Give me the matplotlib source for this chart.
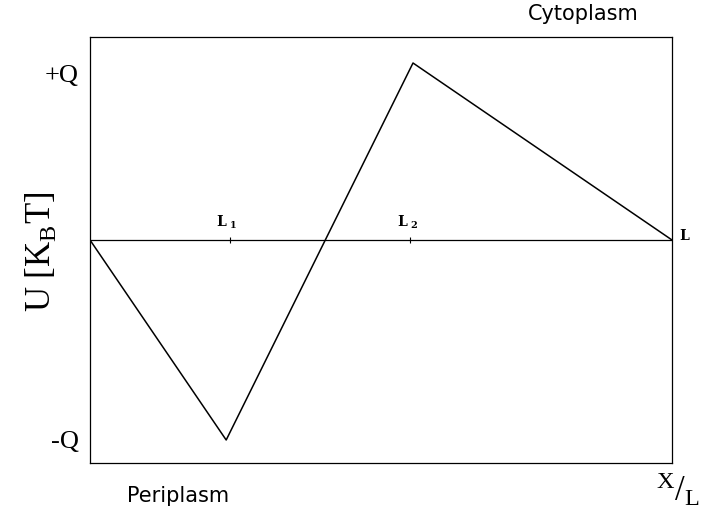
import numpy as np
import matplotlib
matplotlib.use('Agg')
import matplotlib.pyplot as plt

# potential profile across the membrane (position in units of L, energy in units of Q)
x_pos = [0.0, 0.234, 0.555, 1.0]
u_val = [0.0, -1.0, 0.885, 0.0]
q_ticks = [-1.0, 0.835]
q_labels = ['-Q', '+Q']
l_marks = [0.24, 0.55]
l_names = ['$\\mathregular{L_{\\ 1}}$', '$\\mathregular{L_{\\ 2}}$']

fig = plt.figure(figsize=(7.01, 5.27), dpi=100)
ax = fig.add_axes([90 / 701, 1 - 463 / 527, 582 / 701, 426 / 527])

ax.plot(x_pos, u_val, color='black', lw=1.1)
ax.axhline(0, color='black', lw=0.9)
# small marks for L1 and L2 on the zero line
ax.plot(l_marks, [0, 0], '|', color='black', ms=4, mew=0.8)

ax.set_xlim(0, 1)
ax.set_ylim(-1.115, 1.015)
ax.set_xticks([])
ax.set_yticks(q_ticks)
ax.set_yticklabels(q_labels, fontsize=19, family='Liberation Serif')
ax.tick_params(axis='y', length=0, pad=8)
for s in ax.spines.values():
    s.set_linewidth(0.9)

for xm, nm in zip(l_marks, l_names):
    ax.text(xm - 0.005, 0.09, nm, ha='center', va='center', fontsize=10,
            family='DejaVu Serif', fontweight='bold')
ax.text(1.012, 0.02, 'L', ha='left', va='center',
        fontsize=10, family='DejaVu Serif', fontweight='bold', clip_on=False)

fig.text(40 / 701, 1 - 252 / 527, 'U [K$_\\mathregular{B}$T]', rotation=90,
         ha='center', va='center', fontsize=25, family='Liberation Serif')

fig.text(583 / 701, 1 - 14 / 527, 'Cytoplasm', ha='center', va='center',
         fontsize=15, family='DejaVu Sans', color='black')
fig.text(178 / 701, 1 - 496 / 527, 'Periplasm', ha='center', va='center',
         fontsize=15, family='DejaVu Sans', color='black')
fig.text(700 / 701, 1 - 490 / 527, '$\\mathregular{^X/_L}$', ha='right', va='center',
         fontsize=25, family='Liberation Serif')

fig.savefig('out.png', dpi=100)
